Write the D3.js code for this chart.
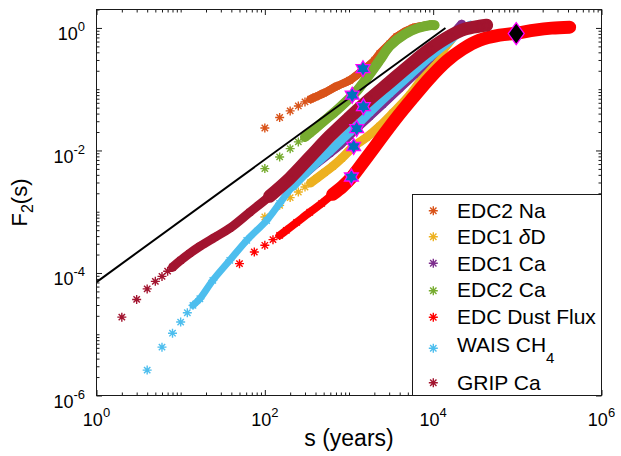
<!DOCTYPE html>
<html>
<head>
<meta charset="utf-8">
<script src="https://cdn.jsdelivr.net/npm/d3@7"></script>
<style>
  body { margin: 0; background: #fff; }
  svg { display: block; font-family: 'Liberation Sans', Arial, Helvetica, sans-serif; }
</style>
</head>
<body>
<svg class="chart"></svg>
<script>
'use strict';

// series values, s in years and F2(s)
var naS = [100, 150, 200, 250, 300, 350, 400, 500, 715, 1020, 1415, 2020, 2320, 3040, 3690, 5710, 9090];
var naF = [0.0233, 0.0345, 0.0442, 0.0533, 0.062, 0.0687, 0.0748, 0.0861, 0.112, 0.14, 0.197, 0.298, 0.38, 0.55, 0.72, 1.0, 1.12];

var ddS = [100, 150, 200, 250, 300, 350, 413, 514, 640, 819, 1020, 1137, 1623, 2315, 3304, 5260, 9090, 13700, 18000, 20600];
var ddF = [8.2e-4, 1.27e-3, 1.7e-3, 2.1e-3, 2.53e-3, 2.97e-3, 3.51e-3, 4.4e-3, 5.52e-3, 7.46e-3, 0.0101, 0.0117, 0.0164, 0.0248, 0.0405, 0.0798, 0.22, 0.468, 0.762, 0.993];

var ca1S = [200, 250, 300, 413, 590, 775, 1020, 1230, 1760, 2510, 4000, 6030, 9090, 13700, 18000, 21800];
var ca1F = [2.91e-3, 3.51e-3, 4.24e-3, 6.18e-3, 9.0e-3, 0.0122, 0.0177, 0.0231, 0.0362, 0.0568, 0.104, 0.176, 0.321, 0.586, 0.853, 1.15];

var ca2S = [100, 150, 200, 250, 300, 351, 402, 500, 715, 1020, 1230, 1620, 2320, 3040, 4590, 6550, 9090, 10400];
var ca2F = [0.00506, 0.00784, 0.0107, 0.0138, 0.0166, 0.0198, 0.0231, 0.03, 0.0454, 0.0713, 0.0928, 0.151, 0.298, 0.504, 0.792, 0.993, 1.11, 1.11];

var dustS = [50, 75, 100, 125, 150, 180, 239, 342, 474, 640, 842, 1077, 1537, 2315, 3490, 5710, 9090, 14460, 22400, 35700, 61600, 98100, 160500, 255500, 418000];
var dustF = [1.42e-4, 2.2e-4, 2.83e-4, 3.5e-4, 4.11e-4, 4.97e-4, 6.7e-4, 9.8e-4, 1.37e-3, 1.92e-3, 2.6e-3, 3.65e-3, 6.92e-3, 0.0147, 0.0311, 0.0713, 0.151, 0.287, 0.451, 0.632, 0.762, 0.822, 0.92, 0.993, 1.03];

var waisS = [4, 6, 8, 10, 12, 14, 16.9, 24.1, 38.3, 61, 105, 150, 215, 342, 590, 1020, 1760, 3040, 5260, 9090, 15700, 21800, 27900];
var waisF = [2.6e-6, 6.15e-6, 1.04e-5, 1.58e-5, 2.24e-5, 2.96e-5, 3.8e-5, 7.57e-5, 1.61e-4, 3.41e-4, 7.2e-4, 1.37e-3, 2.6e-3, 5.0e-3, 0.0097, 0.0199, 0.042, 0.086, 0.17, 0.335, 0.62, 0.93, 1.11];

var gripS = [2, 3, 4, 5, 6, 7, 8, 10, 12.8, 16.9, 25.4, 38.3, 66.2, 114, 198, 342, 590, 1020, 1760, 3040, 5260, 9090, 15700, 23700, 35700, 43200];
var gripF = [1.9e-5, 3.7e-5, 5.5e-5, 7.3e-5, 8.8e-5, 1.07e-4, 1.24e-4, 1.61e-4, 2.09e-4, 2.72e-4, 3.82e-4, 5.36e-4, 9.8e-4, 1.79e-3, 3.51e-3, 7.74e-3, 0.0171, 0.0349, 0.0687, 0.13, 0.247, 0.451, 0.734, 0.955, 1.07, 1.11];

// s from which the points merge into a band, and from which it is at full width
var bandFrom = [350, 350, 200, 300, 150, 14, 8];
var bandFullFrom = [350, 350, 200, 300, 500, 200, 100];

var starS = [1466, 1091, 1483, 1234, 1137, 1068];
var starF = [0.216, 0.0798, 0.052, 0.0228, 0.0116, 0.00369];
var peakS = [97000];
var peakF = [0.81];
var fitS = [1, 14000];
var fitF = [7.1e-5, 1.0];

var legendLabels = ['EDC2 Na', 'EDC1 δD', 'EDC1 Ca', 'EDC2 Ca', 'EDC Dust Flux', 'WAIS CH_{4}', 'GRIP Ca'];
var xTickExp = [0, 2, 4, 6];
var yTickExp = [-6, -4, -2, 0];

var colors = ['#D95319', '#EDB120', '#7E2F8E', '#77AC30', '#FF0000', '#4DBEEE', '#A2142F'];
var bandThin = [8, 8, 8, 9, 8, 7, 9];
var bandFull = [8, 9, 9, 10, 13, 9, 13];

var allS = [naS, ddS, ca1S, ca2S, dustS, waisS, gripS];
var allF = [naF, ddF, ca1F, ca2F, dustF, waisF, gripF];

var width = 621;
var height = 456;
var plotLeft = 96.5, plotRight = 601.5, plotTop = 9.5, plotBottom = 395.5;
var axisColor = '#1a1a1a';

var svg = d3.select('.chart')
    .attr('width', width)
    .attr('height', height);

svg.append('rect')
    .attr('width', width)
    .attr('height', height)
    .style('fill', '#fff');

var x = d3.scaleLog().domain([1, 1e6]).range([plotLeft, plotRight]);
var y = d3.scaleLog().domain([1e-6, 2]).range([plotBottom, plotTop]);

var series = legendLabels.map(function (name, i) {
    return {
        name: name,
        color: colors[i],
        thin: bandThin[i],
        full: bandFull[i],
        from: bandFrom[i],
        fullFrom: bandFullFrom[i],
        points: allS[i].map(function (s, j) {return [s, allF[i][j]];})
    };
});

var plot = svg.append('g');

var line = d3.line()
    .x(function (d) {return x(d[0]);})
    .y(function (d) {return y(d[1]);})
    .curve(d3.curveCatmullRom.alpha(0.5));

series.forEach(function (sr) {
    var g = plot.append('g');

    [[sr.from, sr.thin], [sr.fullFrom, sr.full]].forEach(function (b) {
        g.append('path')
            .datum(sr.points.filter(function (d) {return d[0] >= b[0];}))
            .attr('d', line)
            .style('fill', 'none')
            .style('stroke', sr.color)
            .style('stroke-width', b[1])
            .style('stroke-linecap', 'round')
            .style('stroke-linejoin', 'round');
    });

    g.selectAll('path.pt')
        .data(sr.points)
        .enter().append('path')
        .attr('class', 'pt')
        .attr('transform', function (d) {return 'translate(' + x(d[0]) + ',' + y(d[1]) + ')';})
        .attr('d', asterisk(4.5))
        .style('fill', 'none')
        .style('stroke', sr.color)
        .style('stroke-width', 1.4);
});

plot.append('path')
    .datum(fitS.map(function (s, i) {return [s, fitF[i]];}))
    .attr('d', d3.line()
        .x(function (d) {return x(d[0]);})
        .y(function (d) {return y(d[1]);}))
    .style('fill', 'none')
    .style('stroke', '#000')
    .style('stroke-width', 2);

plot.selectAll('path.star')
    .data(starS.map(function (s, i) {return [s, starF[i]];}))
    .enter().append('path')
    .attr('class', 'star')
    .attr('transform', function (d) {return 'translate(' + x(d[0]) + ',' + y(d[1]) + ')';})
    .attr('d', hexagram(8))
    .style('fill', '#0072BD')
    .style('stroke', '#FF00FF')
    .style('stroke-width', 1.3);

plot.selectAll('path.peak')
    .data(peakS.map(function (s, i) {return [s, peakF[i]];}))
    .enter().append('path')
    .attr('class', 'peak')
    .attr('transform', function (d) {return 'translate(' + x(d[0]) + ',' + y(d[1]) + ')';})
    .attr('d', 'M0,-11L8,0L0,11L-8,0Z')
    .style('fill', '#000')
    .style('stroke', '#FF00FF')
    .style('stroke-width', 1.3);

// axes: inward ticks on all four sides
var xTicks = x.ticks();
var yTicks = y.ticks().filter(function (v) {return v <= 2;});
var xMajor = xTicks.filter(isMajor), xMinor = xTicks.filter(function (v) {return !isMajor(v);});
var yMajor = yTicks.filter(isMajor), yMinor = yTicks.filter(function (v) {return !isMajor(v);});

var axes = [
    {gen: d3.axisBottom, scale: x, pos: 'translate(0,' + plotBottom + ')'},
    {gen: d3.axisTop, scale: x, pos: 'translate(0,' + plotTop + ')'},
    {gen: d3.axisLeft, scale: y, pos: 'translate(' + plotLeft + ',0)'},
    {gen: d3.axisRight, scale: y, pos: 'translate(' + plotRight + ',0)'}
];

axes.forEach(function (a) {
    var isX = a.scale === x;
    [[isX ? xMinor : yMinor, 3], [isX ? xMajor : yMajor, 5.5]].forEach(function (t) {
        svg.append('g')
            .attr('transform', a.pos)
            .call(a.gen(a.scale).tickValues(t[0]).tickSize(-t[1]).tickSizeOuter(0).tickFormat(''))
            .call(function (g) {g.select('.domain').remove();})
            .selectAll('line')
            .style('stroke', axisColor);
    });
});

svg.append('rect')
    .attr('x', plotLeft)
    .attr('y', plotTop)
    .attr('width', plotRight - plotLeft)
    .attr('height', plotBottom - plotTop)
    .style('fill', 'none')
    .style('stroke', axisColor)
    .style('stroke-width', 1);

svg.selectAll('text.xtick')
    .data(xTickExp)
    .enter().append('text')
    .attr('class', 'xtick')
    .attr('x', function (d) {return x(Math.pow(10, d));})
    .attr('y', 426)
    .attr('text-anchor', 'middle')
    .style('font-size', '18px')
    .each(function (d) {richText(d3.select(this), '10^{' + d + '}', 13, 9);});

svg.selectAll('text.ytick')
    .data(yTickExp)
    .enter().append('text')
    .attr('class', 'ytick')
    .attr('x', 85)
    .attr('y', function (d) {return y(Math.pow(10, d)) + 12.5;})
    .attr('text-anchor', 'end')
    .style('font-size', '18px')
    .each(function (d) {richText(d3.select(this), '10^{' + d + '}', 13, 9);});

svg.append('text')
    .attr('x', (plotLeft + plotRight) / 2)
    .attr('y', 446)
    .attr('text-anchor', 'middle')
    .style('font-size', '23px')
    .text('s (years)');

var ylab = svg.append('text')
    .attr('transform', 'translate(27,' + (plotTop + plotBottom) / 2 + ') rotate(-90)')
    .attr('text-anchor', 'middle')
    .style('font-size', '22px');
richText(ylab, 'F_{2}(s)', 16, 6);

// legend
var legend = svg.append('g');

legend.append('rect')
    .attr('x', 412.5)
    .attr('y', 194.5)
    .attr('width', plotRight - 412.5)
    .attr('height', plotBottom - 194.5)
    .style('fill', '#fff')
    .style('stroke', axisColor)
    .style('stroke-width', 1);

var rowBase = [217.5, 244, 270.7, 297.3, 324, 351.7, 390];
var rowMark = [210.7, 236.7, 263.3, 290.7, 317.3, 348.3, 382.7];

var item = legend.selectAll('g.item')
    .data(series)
    .enter().append('g')
    .attr('class', 'item');

item.append('path')
    .attr('transform', function (d, i) {return 'translate(433.3,' + rowMark[i] + ')';})
    .attr('d', asterisk(4.5))
    .style('fill', 'none')
    .style('stroke', function (d) {return d.color;})
    .style('stroke-width', 1.4);

item.append('text')
    .attr('x', 457)
    .attr('y', function (d, i) {return rowBase[i];})
    .style('font-size', '21px')
    .each(function (d) {richText(d3.select(this), d.name, 15, 11);});


function isMajor (v) {
    var e = Math.log10(v);
    var r = Math.round(e);
    return Math.abs(e - r) < 1e-9 && r % 2 === 0;
}

function asterisk (r) {
    var k = r * Math.SQRT1_2;
    return 'M' + (-r) + ',0L' + r + ',0' +
        'M0,' + (-r) + 'L0,' + r +
        'M' + (-k) + ',' + (-k) + 'L' + k + ',' + k +
        'M' + (-k) + ',' + k + 'L' + k + ',' + (-k);
}

function hexagram (R) {
    var pts = [];
    for (var i = 0; i < 12; i++) {
        var a = -Math.PI / 2 + i * Math.PI / 6;
        var r = (i % 2 === 0) ? R : R / Math.sqrt(3);
        pts.push([r * Math.cos(a), r * Math.sin(a)]);
    }
    return 'M' + pts.map(function (p) {return p[0].toFixed(2) + ',' + p[1].toFixed(2);}).join('L') + 'Z';
}

// handles _{sub}, ^{sup} and an italic delta
function richText (text, str, smallSize, shift) {
    var back = 0;
    str.split(/(_\{[^}]*\}|\^\{[^}]*\}|δ)/).forEach(function (t) {
        if (!t) return;
        var span = text.append('tspan');
        if (t.indexOf('_{') === 0 || t.indexOf('^{') === 0) {
            var dy = (t[0] === '_') ? shift : -shift;
            span.attr('dy', back + dy)
                .style('font-size', smallSize + 'px')
                .text(t.slice(2, -1));
            back = -dy;
            return;
        }
        if (back) {
            span.attr('dy', back);
            back = 0;
        }
        if (t === 'δ') span.style('font-style', 'italic');
        span.text(t);
    });
}
</script>
</body>
</html>
